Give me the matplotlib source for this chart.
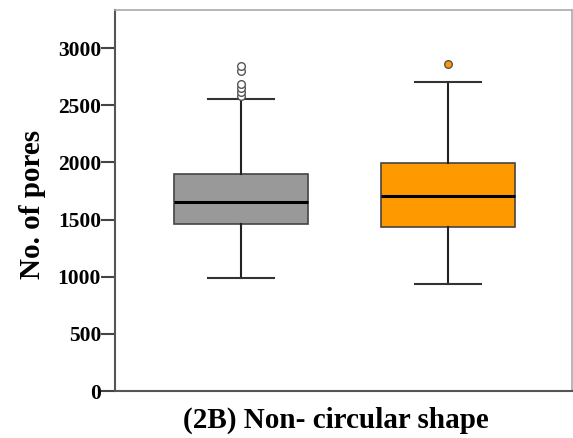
import matplotlib.pyplot as plt

# box statistics
groups = ["Circular", "Non-circular"]
q1 = [1461, 1432]
med = [1650, 1709]
q3 = [1898, 1992]
whislo = [986, 933]
whishi = [2555, 2706]
outliers = [[2580, 2615, 2650, 2690, 2804, 2842], [2861]]
box_colors = ["#999999", "#FF9900"]
flier_faces = ["white", "#FF9900"]

plt.rcParams['font.family'] = ['Liberation Serif', 'DejaVu Serif']

fig = plt.figure(figsize=(5.73, 4.38), dpi=100)
ax = fig.add_axes([0.2007, 0.1073, 0.7973, 0.8697])

stats = []
for i in range(len(groups)):
    stats.append({"label": groups[i], "q1": q1[i], "med": med[i], "q3": q3[i],
                  "whislo": whislo[i], "whishi": whishi[i], "fliers": outliers[i]})

bp = ax.bxp(stats, positions=[1, 2], widths=0.65, patch_artist=True,
            showfliers=True, capwidths=0.32,
            boxprops=dict(edgecolor="#444444", linewidth=1.2),
            medianprops=dict(color="black", linewidth=2.2),
            whiskerprops=dict(color="#222222", linewidth=1.5),
            capprops=dict(color="#333333", linewidth=1.5))
for patch, c in zip(bp["boxes"], box_colors):
    patch.set_facecolor(c)
for fl, fc in zip(bp["fliers"], flier_faces):
    fl.set(marker="o", markersize=5.5, markerfacecolor=fc,
           markeredgecolor="#555555", markeredgewidth=1.0)

ax.set_xlim(0.39, 2.6)
ax.set_ylim(0, 3333)
ax.set_yticks([0, 500, 1000, 1500, 2000, 2500, 3000])
ax.set_xticks([])
ax.tick_params(axis="y", direction="out", length=10, width=1.5, color="#444444",
               labelsize=15.5, pad=0)
for lab in ax.get_yticklabels():
    lab.set_fontweight("bold")

for s in ["left", "bottom"]:
    ax.spines[s].set_color("#555555")
    ax.spines[s].set_linewidth(1.5)
for s in ["top", "right"]:
    ax.spines[s].set_color("#aaaaaa")
    ax.spines[s].set_linewidth(1.2)

ax.set_ylabel("No. of pores", fontsize=21, fontweight="bold")
ax.yaxis.set_label_coords(-0.15, 0.49)
ax.set_xlabel("(2B) Non- circular shape", fontsize=21, fontweight="bold")
ax.xaxis.set_label_coords(0.484, -0.04)

fig.savefig("out.png", dpi=100)
